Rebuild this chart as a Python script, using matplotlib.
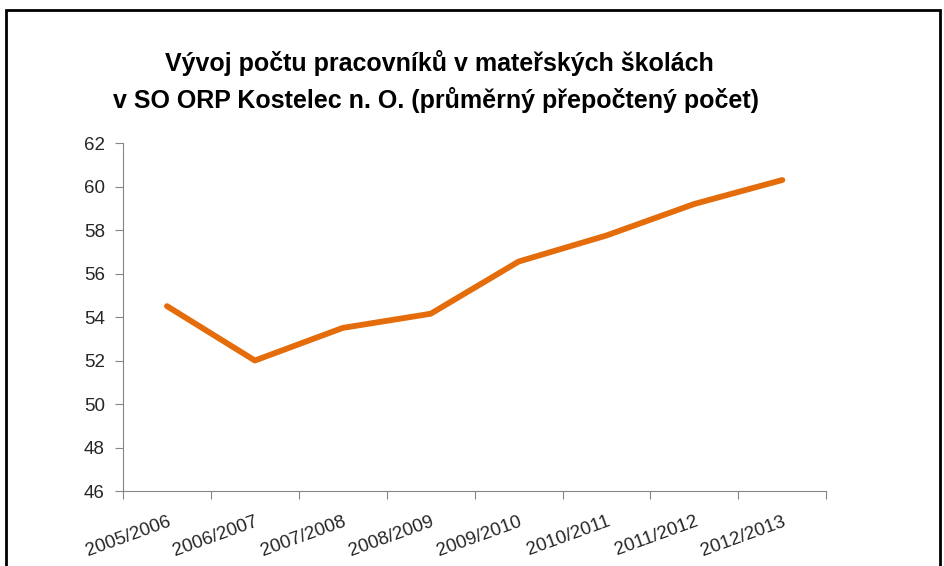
import matplotlib.pyplot as plt
from matplotlib.patches import Rectangle

# school years and average recalculated staff count
years = ['2005/2006', '2006/2007', '2007/2008', '2008/2009',
         '2009/2010', '2010/2011', '2011/2012', '2012/2013']
staff = [54.5, 52.0, 53.5, 54.15, 56.55, 57.75, 59.2, 60.3]
y_ticks = [46, 48, 50, 52, 54, 56, 58, 60, 62]

font = ['Liberation Sans Narrow', 'Liberation Sans', 'DejaVu Sans']
plt.rcParams['font.family'] = font

fig = plt.figure(figsize=(9.44, 5.66), dpi=100)
ax = fig.add_axes([0.1303, 0.1325, 0.745, 0.6148])

x = [i + 0.5 for i in range(len(years))]
ax.plot(x, staff, color='#E46C0A', linewidth=4.2, solid_capstyle='round')

ax.set_xlim(0, len(years))
ax.set_ylim(46, 62)
ax.set_yticks(y_ticks)
ax.set_xticks(range(len(years) + 1))
ax.set_xticklabels([''] * (len(years) + 1))
ax.set_xticks(x, minor=True)
ax.set_xticklabels(years, minor=True, rotation=20, ha='right',
                   rotation_mode='anchor', fontsize=13.5, color='#262626')
ax.tick_params(axis='x', which='minor', length=0, pad=16)
ax.tick_params(axis='x', which='major', length=6, color='#868686')
ax.tick_params(axis='y', length=6, color='#868686', labelsize=13.5,
               labelcolor='#262626', pad=7)

for side in ['top', 'right']:
    ax.spines[side].set_visible(False)
for side in ['left', 'bottom']:
    ax.spines[side].set_color('#868686')

fig.text(0.465, 0.888, 'Vývoj počtu pracovníků v mateřských školách',
         ha='center', va='center', fontsize=18, fontweight='bold')
fig.text(0.462, 0.823, 'v SO ORP Kostelec n. O. (průměrný přepočtený počet)',
         ha='center', va='center', fontsize=18, fontweight='bold')

# outer frame of the chart
fig.patches.append(Rectangle((0.006, -0.05), 0.99, 1.033, transform=fig.transFigure,
                             fill=False, edgecolor='black', linewidth=2))

fig.savefig('out.png', dpi=100)
